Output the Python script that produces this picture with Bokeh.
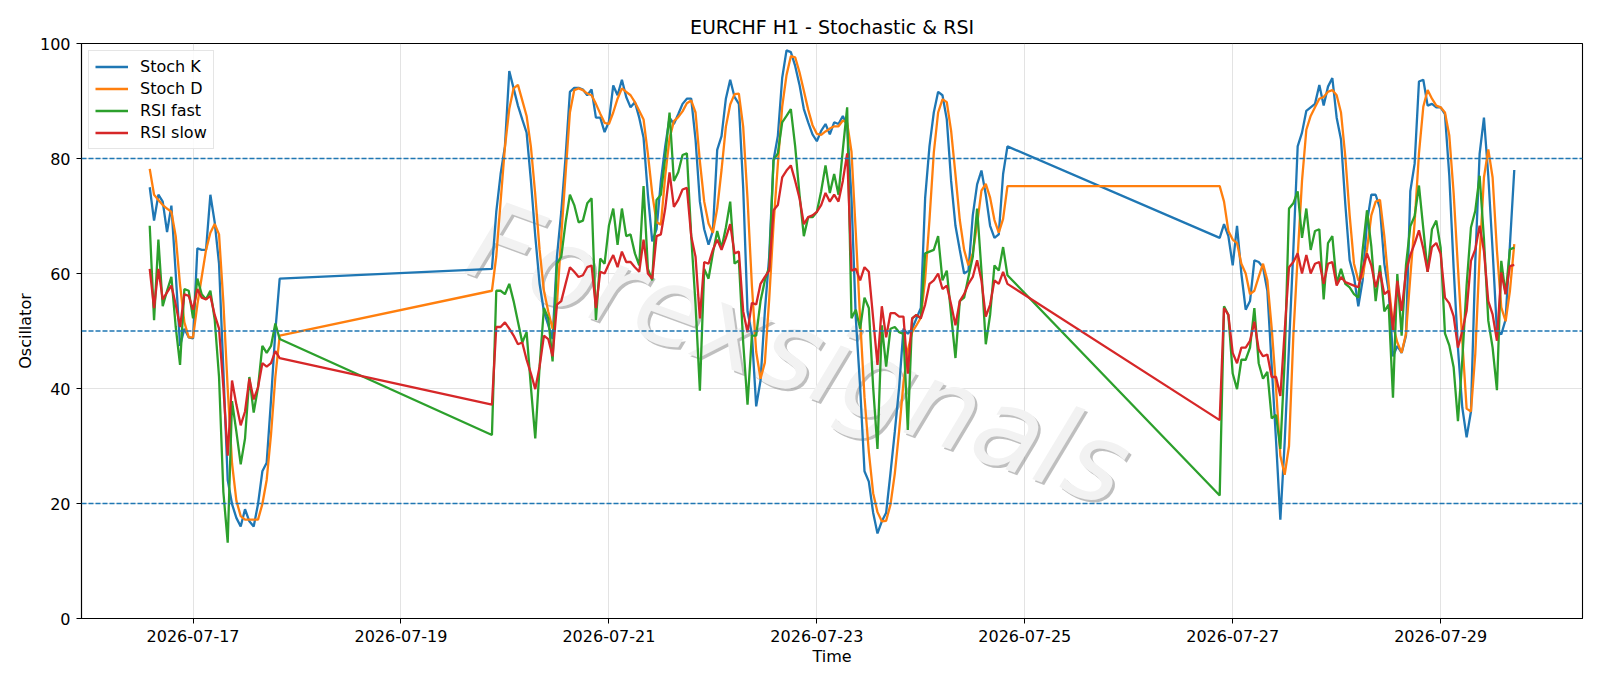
import pandas as pd
from bokeh.plotting import figure
from bokeh.models import Range1d, Span, FixedTicker, DatetimeTickFormatter, Label, Legend
from bokeh.embed import file_html
from bokeh.resources import INLINE

# ---- data (hourly bars, three trading blocks) ----
block_starts = ["2026-07-16 14:00", "2026-07-19 21:00", "2026-07-26 21:00"]

stoch_k_1 = [75.0, 69.2, 73.7, 72.5, 67.2, 71.8, 60.0, 47.4, 50.4, 48.9, 48.7, 64.4, 64.1, 64.1, 73.7, 68.9,
             61.7, 43.2, 24.1, 19.9, 17.5, 16.0, 19.0, 16.9, 16.0, 19.9, 25.6, 27.1, 38.0, 50.0, 59.1]
stoch_d_1 = [78.2, 73.7, 72.8, 71.9, 71.3, 70.7, 66.5, 58.0, 51.5, 48.9, 48.9, 54.6, 59.4, 64.1, 67.1, 68.6,
             66.8, 55.0, 40.0, 27.0, 20.5, 17.8, 17.2, 17.2, 17.2, 17.2, 19.9, 24.1, 32.0, 42.0, 49.2]
rsi_fast_1 = [68.3, 51.9, 65.9, 54.3, 57.0, 59.4, 50.7, 44.1, 57.3, 57.0, 52.2, 59.1, 56.4, 55.5, 57.0, 52.0,
              42.0, 22.0, 13.2, 37.8, 32.5, 26.8, 31.3, 42.0, 35.8, 40.2, 47.4, 46.2, 47.4, 51.3, 48.6]
rsi_slow_1 = [60.8, 54.0, 60.8, 55.5, 56.7, 57.9, 54.6, 50.7, 56.4, 56.1, 53.7, 57.3, 55.8, 55.5, 56.1, 52.8,
              50.4, 40.2, 28.3, 41.4, 37.2, 33.6, 36.0, 41.7, 38.1, 40.2, 44.4, 43.8, 44.4, 46.5, 45.3]

stoch_k_2 = [60.8, 70.7, 77.3, 82.1, 95.2, 92.2, 89.2, 86.8, 84.5, 76.1,
             66.5, 58.2, 53.4, 51.0, 48.6, 62.9, 70.7, 80.3, 91.6, 92.3,
             92.3, 92.0, 91.0, 92.0, 87.1, 87.1, 84.6, 86.4, 92.7, 91.0,
             93.7, 90.7, 88.9, 89.8, 87.1, 83.6, 73.7, 65.6, 67.7, 76.1,
             82.1, 87.1, 86.0, 87.7, 89.5, 90.4, 90.4, 83.3, 72.5, 67.7,
             65.0, 67.4, 81.5, 83.9, 90.4, 93.7, 90.7, 89.5, 74.9, 53.4,
             49.5, 36.9, 41.4, 53.4, 62.9, 79.7, 83.9, 94.0, 98.8, 98.5,
             96.1, 92.8, 88.6, 86.3, 84.2, 83.0, 84.8, 86.0, 84.2, 86.3,
             86.0, 87.4, 85.7, 73.1, 52.2, 40.2, 25.6, 23.8, 18.4, 14.8,
             16.9, 18.4, 25.3, 32.5, 40.2, 50.4, 49.5, 50.4, 52.2, 54.0,
             73.1, 82.1, 88.0, 91.6, 91.0, 86.8, 76.1, 68.3, 64.1, 60.0,
             60.5, 70.1, 75.5, 77.9, 73.7, 68.3, 66.2, 66.8, 77.3, 82.1]
stoch_d_2 = [57.0, 63.0, 72.5, 82.0, 88.6, 92.2, 92.8, 90.1, 87.4, 82.0,
             73.7, 64.1, 57.0, 53.4, 50.4, 54.6, 66.5, 77.3, 88.0, 91.9,
             92.2, 91.9, 91.3, 91.0, 89.5, 87.8, 86.2, 86.0, 88.0, 90.4,
             92.2, 91.6, 91.0, 89.8, 88.3, 86.8, 80.8, 73.9, 68.9, 68.5,
             77.0, 83.5, 86.5, 87.2, 88.2, 89.6, 90.1, 88.0, 79.5, 72.5,
             68.7, 67.1, 71.3, 78.0, 85.5, 89.4, 91.2, 91.3, 85.5, 73.0,
             58.0, 46.4, 41.7, 44.5, 55.5, 68.5, 79.0, 89.0, 94.5, 97.8,
             97.6, 95.0, 91.8, 88.5, 85.8, 84.3, 84.1, 84.7, 85.2, 85.6,
             85.6, 86.6, 86.2, 81.2, 67.0, 52.0, 38.5, 29.0, 21.8, 18.5,
             16.9, 17.0, 19.8, 25.2, 32.6, 41.0, 46.6, 49.8, 51.0, 52.3,
             59.0, 69.3, 81.0, 88.0, 90.3, 89.8, 84.8, 77.2, 69.3, 64.1,
             61.4, 63.5, 68.6, 74.4, 75.6, 73.2, 69.3, 67.1, 69.5, 75.2]
rsi_fast_2 = [31.9, 57.0, 57.0, 56.4, 58.2, 55.2, 51.6, 48.0, 49.8, 40.2,
              31.3, 43.8, 54.0, 52.2, 44.7, 61.7, 62.9, 68.9, 73.7, 71.9,
              68.9, 69.2, 72.2, 73.1, 51.9, 62.6, 61.7, 68.3, 71.3, 65.0,
              71.3, 66.5, 66.8, 63.5, 61.4, 75.2, 60.8, 58.8, 72.8, 73.7,
              80.3, 88.0, 76.1, 77.6, 80.6, 80.9, 66.5, 54.6, 39.6, 60.8,
              59.1, 63.5, 67.4, 64.4, 68.0, 72.5, 61.7, 62.3, 48.0, 37.2,
              49.2, 49.2, 55.2, 58.8, 61.1, 79.7, 80.9, 86.3, 87.4, 88.6,
              82.1, 73.7, 66.5, 69.8, 69.8, 70.7, 74.3, 78.8, 74.0, 77.3,
              73.7, 81.5, 88.9, 52.2, 53.7, 50.4, 55.8, 54.0, 40.2, 29.5,
              51.0, 43.8, 50.4, 50.7, 49.8, 49.5, 32.8, 52.2, 52.8, 52.2,
              63.5, 63.8, 64.1, 66.5, 58.8, 60.5, 52.8, 45.3, 55.2, 55.8,
              59.4, 62.9, 71.3, 60.5, 47.7, 52.8, 61.4, 60.5, 64.6, 59.7]
rsi_slow_2 = [37.2, 50.7, 50.7, 51.5, 50.4, 49.2, 47.7, 48.0, 45.0, 42.6,
              39.9, 43.8, 49.2, 48.6, 45.6, 54.6, 55.2, 58.2, 61.1, 60.3,
              59.4, 59.7, 61.1, 61.4, 54.0, 60.3, 60.0, 61.7, 63.2, 61.1,
              63.8, 62.0, 62.0, 61.1, 60.3, 65.9, 60.0, 59.1, 66.5, 66.8,
              71.3, 77.6, 71.6, 72.8, 74.6, 74.9, 66.5, 62.9, 52.2, 62.0,
              61.7, 64.1, 65.9, 64.1, 66.2, 68.6, 63.5, 63.8, 53.4, 49.8,
              54.9, 54.6, 58.2, 59.4, 60.5, 71.0, 71.9, 76.7, 77.9, 78.8,
              76.1, 73.1, 68.6, 69.8, 70.1, 70.7, 71.9, 74.0, 72.5, 73.7,
              72.5, 76.1, 80.9, 60.5, 60.8, 58.8, 61.1, 60.3, 52.2, 44.1,
              54.3, 48.9, 53.1, 53.1, 52.5, 52.5, 42.6, 52.2, 52.8, 52.2,
              54.6, 58.2, 58.8, 60.0, 57.3, 57.9, 54.6, 51.0, 55.2, 56.4,
              58.2, 59.4, 62.3, 58.8, 52.5, 54.6, 58.8, 58.2, 60.3, 58.2]

stoch_k_3 = [66.2, 68.6, 66.5, 61.4, 68.3, 60.0, 53.7, 55.2, 62.3, 62.0,
             61.1, 57.0, 44.0, 31.0, 17.2, 30.7, 47.4, 64.1, 82.1, 84.5,
             88.3, 88.9, 89.5, 92.8, 89.2, 92.5, 94.0, 87.1, 83.3, 72.0,
             62.3, 59.4, 54.3, 58.8, 68.9, 73.7, 73.7, 71.3, 61.7, 57.0,
             45.6, 47.4, 46.2, 49.2, 74.3, 79.1, 93.4, 93.7, 89.2, 89.5,
             88.9, 88.9, 87.7, 77.0, 61.0, 47.0, 36.7, 31.5, 36.0, 62.0,
             80.8, 87.1, 77.0, 64.0, 50.0, 49.4, 52.0, 65.0, 78.0]
stoch_d_3 = [75.2, 72.5, 67.4, 65.9, 65.3, 61.7, 60.0, 56.4, 57.0, 59.4,
             61.7, 58.8, 50.5, 40.2, 28.3, 25.0, 30.0, 49.2, 63.0, 76.1,
             85.0, 87.4, 88.9, 90.4, 90.7, 91.6, 91.9, 91.0, 88.0, 80.3,
             70.1, 61.7, 58.8, 59.4, 64.1, 70.1, 72.5, 72.8, 66.5, 58.2,
             51.0, 48.0, 46.2, 49.5, 59.4, 68.9, 80.9, 89.0, 91.9, 90.4,
             89.2, 88.9, 88.0, 84.0, 74.0, 61.0, 48.3, 36.5, 36.0, 46.0,
             63.0, 76.7, 81.6, 76.7, 64.0, 54.1, 51.7, 57.0, 65.1]
rsi_fast_3 = [21.4, 54.3, 52.8, 42.6, 39.9, 45.0, 45.0, 47.1, 54.0, 44.4,
              41.7, 42.9, 34.8, 35.4, 29.5, 45.0, 71.3, 72.2, 74.3, 66.2,
              71.3, 64.1, 67.4, 67.7, 55.5, 65.3, 66.5, 58.2, 60.8, 58.2,
              57.6, 56.4, 55.8, 64.1, 71.0, 64.7, 55.2, 61.4, 53.4, 54.6,
              38.4, 59.9, 49.2, 61.4, 68.2, 70.0, 75.3, 67.8, 60.3, 67.7,
              69.2, 64.5, 49.6, 47.5, 43.7, 34.3, 45.0, 58.0, 68.0, 70.9,
              77.0, 66.0, 51.8, 47.1, 39.7, 62.2, 56.4, 64.2, 64.5]
rsi_slow_3 = [34.5, 54.0, 52.8, 46.2, 44.4, 47.1, 47.1, 48.3, 51.6, 46.8,
              45.6, 45.9, 42.0, 42.0, 38.7, 50.0, 61.1, 62.0, 63.5, 60.0,
              63.2, 60.0, 61.7, 62.0, 58.2, 61.7, 62.0, 57.9, 59.4, 58.5,
              58.2, 57.9, 57.6, 60.8, 63.5, 61.4, 57.6, 60.3, 56.4, 57.0,
              50.2, 58.7, 53.5, 60.3, 63.2, 65.2, 67.5, 64.3, 60.3, 64.6,
              65.3, 63.4, 55.8, 54.8, 52.6, 47.1, 50.0, 53.5, 62.2, 64.2,
              68.3, 63.9, 55.2, 52.9, 48.3, 60.2, 56.4, 61.3, 61.5]

levels = [80, 50, 20]
x_tick_dates = ["2026-07-17", "2026-07-19", "2026-07-21", "2026-07-23",
                "2026-07-25", "2026-07-27", "2026-07-29"]
y_ticks = [0, 20, 40, 60, 80, 100]

series = [
    ("Stoch K", [stoch_k_1, stoch_k_2, stoch_k_3], "#1f77b4"),
    ("Stoch D", [stoch_d_1, stoch_d_2, stoch_d_3], "#ff7f0e"),
    ("RSI fast", [rsi_fast_1, rsi_fast_2, rsi_fast_3], "#2ca02c"),
    ("RSI slow", [rsi_slow_1, rsi_slow_2, rsi_slow_3], "#d62728"),
]

# time axis built from block starts and the length of each block
times = []
for start, blk in zip(block_starts, series[0][1]):
    times.extend(list(pd.date_range(start, periods=len(blk), freq="h")))
times = pd.DatetimeIndex(times)

t0, t1 = times.min(), times.max()
pad = (t1 - t0) * 0.05

FONT = "DejaVu Sans"
SMALL = "16px"

p = figure(width=1600, height=686, x_axis_type="datetime",
           output_backend="svg", toolbar_location=None,
           title="EURCHF H1 - Stochastic & RSI",
           x_range=Range1d(t0 - pad, t1 + pad), y_range=Range1d(0, 100))
p.min_border_left = 81
p.min_border_right = 18
p.min_border_top = 43
p.min_border_bottom = 68
p.background_fill_color = "white"
p.border_fill_color = "white"
p.outline_line_color = "black"
p.outline_line_width = 1.1

p.title.align = "center"
p.title.text_font = FONT
p.title.text_font_size = "19px"
p.title.text_font_style = "normal"
p.title.text_color = "black"
p.title.standoff = 11

# watermark
wm_x = pd.Timestamp("2026-07-22 20:00")
for dx, dy, col, alpha in [(2.5, -2.5, "#8a8a8a", 0.55), (0, 0, "#f2f2f2", 1.0)]:
    p.add_layout(Label(x=wm_x, y=46.0, text="Forexsignals", angle=-20, angle_units="deg",
                       text_align="center", text_baseline="middle", x_offset=dx, y_offset=dy,
                       text_font=FONT, text_font_style="italic", text_font_size="110px",
                       text_color=col, text_alpha=alpha, level="underlay"))

for lv in levels:
    p.add_layout(Span(location=lv, dimension="width", line_color="#1f77b4",
                      line_dash="5 2", line_width=1.4))

items = []
for name, blocks, color in series:
    vals = blocks[0] + blocks[1] + blocks[2]
    r = p.line(times, vals, line_color=color, line_width=2.3)
    items.append((name, [r]))

legend = Legend(items=items, location="top_left")
legend.label_text_font = FONT
legend.label_text_font_size = SMALL
legend.label_text_color = "black"
legend.glyph_width = 33
legend.glyph_height = 19
legend.label_height = 19
legend.label_standoff = 12
legend.spacing = 3
legend.padding = 6
legend.margin = 7
legend.border_line_color = "#cccccc"
legend.border_line_width = 1
legend.background_fill_alpha = 0.85
p.add_layout(legend)

# axes
tick_ms = [pd.Timestamp(d).value // 10**6 for d in x_tick_dates]
p.xaxis.ticker = FixedTicker(ticks=tick_ms)
p.xaxis.formatter = DatetimeTickFormatter(days="%Y-%m-%d", months="%Y-%m-%d",
                                          hours="%Y-%m-%d", years="%Y-%m-%d")
p.yaxis.ticker = FixedTicker(ticks=y_ticks)
p.xaxis.axis_label = "Time"
p.yaxis.axis_label = "Oscillator"
for ax in (p.xaxis, p.yaxis):
    ax.axis_label_text_font = FONT
    ax.axis_label_text_font_size = SMALL
    ax.axis_label_text_font_style = "normal"
    ax.axis_label_text_color = "black"
    ax.major_label_text_font = FONT
    ax.major_label_text_font_size = SMALL
    ax.major_label_text_color = "black"
    ax.major_tick_in = 0
    ax.major_tick_out = 5
    ax.minor_tick_in = 0
    ax.minor_tick_out = 0
    ax.major_tick_line_color = "black"
    ax.axis_line_color = "black"
    ax.axis_line_width = 1.1
p.xaxis.major_label_standoff = 6
p.xaxis.axis_label_standoff = 2
p.yaxis.major_label_standoff = 6
p.yaxis.axis_label_standoff = 2

p.xgrid.ticker = FixedTicker(ticks=tick_ms)
p.ygrid.ticker = FixedTicker(ticks=y_ticks)
for g in (p.xgrid, p.ygrid):
    g.grid_line_color = "#b0b0b0"
    g.grid_line_alpha = 0.35
    g.grid_line_width = 1

open("out.html", "w").write(file_html(p, INLINE))
